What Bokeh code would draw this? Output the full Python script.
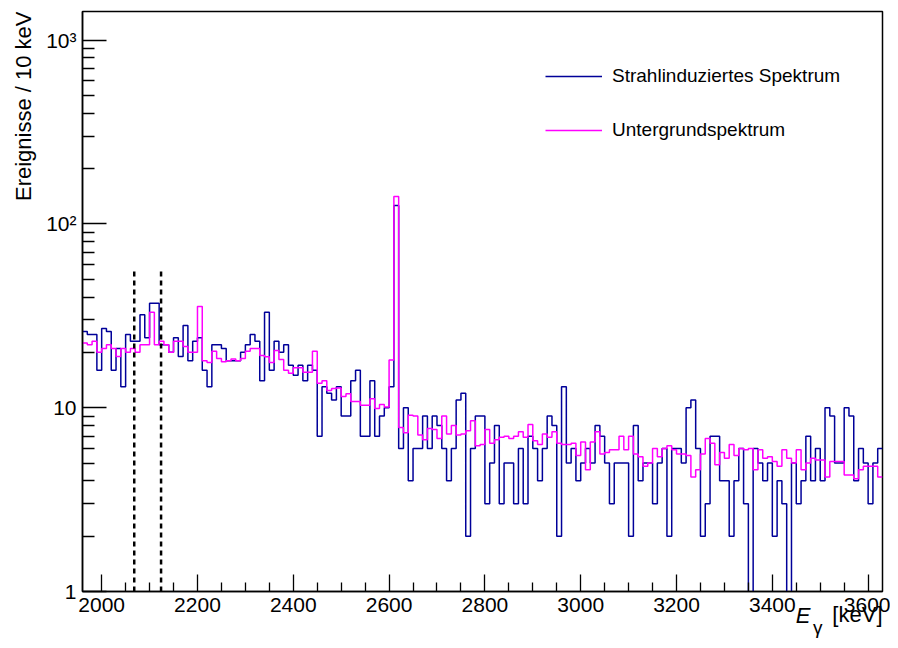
import numpy as np
from bokeh.plotting import figure
from bokeh.models import ColumnDataSource, FixedTicker, Legend, LegendItem, Title
from bokeh.embed import file_html
from bokeh.resources import INLINE

# ---- data -------------------------------------------------------------
E_START = 1960          # keV, lower edge of first bin
BIN_WIDTH = 10          # keV per bin

# Strahlinduziertes Spektrum (counts per 10 keV bin)
strahl = [
    26, 25, 25, 16, 27, 26, 16, 21, 13, 25,
    23, 23, 32, 24, 37, 37, 22, 22, 20, 24,
    19, 28, 18, 23, 24, 16, 13, 22, 22, 21,
    18, 18, 18, 20, 22, 25, 23, 14, 33, 16,
    23, 20, 22, 17, 15, 17, 14, 17, 16, 7,
    13, 12, 11, 13, 9, 9, 14, 16, 7, 7,
    14, 7, 9, 10, 13, 126, 6, 10, 4, 6,
    6, 9, 6, 9, 8, 6, 4, 6, 11, 12,
    2, 6, 9, 9, 3, 5, 8, 3, 5, 5,
    3, 6, 3, 7, 6, 4, 6, 9, 8, 2,
    13, 5, 6, 4, 5, 6, 5, 8, 7, 5,
    3, 5, 5, 5, 2, 8, 4, 5, 5, 3,
    5, 6, 2, 6, 6, 5, 10, 11, 6, 2,
    3, 7, 7, 4, 4, 2, 4, 6, 3, 0,
    6, 5, 4, 5, 2, 4, 3, 0, 5, 3,
    4, 7, 4, 6, 4, 10, 9, 5, 5, 10,
    9, 4, 6, 5, 3, 5, 6,
]

# Untergrundspektrum (scaled background, per 10 keV bin)
untergrund = [
    22.5, 22, 23, 20, 21, 22, 21, 19, 21, 20,
    21, 20, 22, 22, 33, 22, 23, 22, 20, 23,
    23, 21.5, 20, 20, 35.5, 18, 17.6, 20.3, 18.5, 17.8,
    18, 18.4, 18, 18.5, 20.3, 21, 21, 19.2, 18.9, 17.6,
    20.5, 18.3, 16, 15.4, 16.5, 16.5, 15.6, 15.6, 20.3, 13.6,
    14, 12.4, 12.7, 12.8, 11.5, 11.9, 10.8, 10.8, 10.3, 10.3,
    11.2, 9.9, 10.4, 10.1, 18.2, 141, 7.8, 7.3, 9.1, 9,
    7.1, 6.7, 7.7, 7.6, 6.8, 9, 7.2, 8, 7.1, 7.2,
    7.5, 8.5, 6.2, 6.3, 7.6, 6.4, 6.7, 6.9, 7, 6.8,
    7, 7.4, 6.9, 8.1, 6.6, 6.3, 7.2, 6.9, 7.4, 6.4,
    6.3, 6.3, 6.4, 5.5, 6.5, 4.6, 6.5, 7.4, 5.6, 5.7,
    5.9, 5.9, 7.0, 5.9, 7.0, 5.6, 5.4, 4.8, 5.0, 6.0,
    5.4, 6.0, 6.2, 5.9, 5.6, 5.6, 5.5, 4.2, 4.6, 5.6,
    6.8, 6.4, 4.9, 5.7, 5.3, 6.3, 5.5, 6.0, 5.9, 6.0,
    4.6, 5.9, 5.3, 5.4, 5.1, 4.8, 5.9, 5.3, 5.0, 5.9,
    4.6, 5.0, 5.3, 5.2, 5.2, 4.2, 5.1, 5.1, 5.1, 4.3,
    4.3, 4.1, 4.6, 4.8, 4.8, 4.8, 4.2,
]

x_major_ticks = [2000, 2200, 2400, 2600, 2800, 3000, 3200, 3400, 3600]
x_minor_ticks = [2050, 2100, 2150, 2250, 2300, 2350, 2450, 2500, 2550,
                 2650, 2700, 2750, 2850, 2900, 2950, 3050, 3100, 3150,
                 3250, 3300, 3350, 3450, 3500, 3550]
y_major_ticks = [1, 10, 100, 1000]
y_tick_labels = ["1", "10", "10\u00b2", "10\u00b3"]
y_minor_ticks = [2, 3, 4, 5, 6, 7, 8, 9, 20, 30, 40, 50, 60, 70, 80, 90,
                 200, 300, 400, 500, 600, 700, 800, 900]

roi_energies = [2068, 2124]   # dashed markers (keV)
roi_height = 57

Y_MIN, Y_MAX = 1, 1430
legend_labels = ["Strahlinduziertes Spektrum", "Untergrundspektrum"]
x_title_symbol = "E"
x_title_sub = "\u03b3"
x_title_unit = "[keV]"
y_title = "Ereignisse / 10 keV"

FONT = "Liberation Sans"
BLUE = "#000099"
MAGENTA = "#ff00ff"

# ---- figure -----------------------------------------------------------
n = len(strahl)
edges = E_START + BIN_WIDTH * np.arange(n + 1)
X_END = E_START + BIN_WIDTH * n

def step_y(vals):
    v = np.asarray(vals, dtype=float)
    v = np.where(v > 0, v, 0.05)   # empty bins fall below the axis (log)
    return np.append(v, v[-1])

p = figure(width=890, height=648, x_range=(E_START, X_END), y_range=(Y_MIN, Y_MAX),
           y_axis_type="log", output_backend="svg", toolbar_location=None,
           min_border_left=82, min_border_right=8, min_border_top=11,
           min_border_bottom=57, title=None)

p.background_fill_color = "white"
p.border_fill_color = "white"
p.outline_line_color = "black"
p.outline_line_width = 1.5
p.xgrid.visible = False
p.ygrid.visible = False

xa = p.xaxis[0]
ya = p.yaxis[0]
xa.ticker = FixedTicker(ticks=x_major_ticks, minor_ticks=x_minor_ticks)
ya.ticker = FixedTicker(ticks=y_major_ticks, minor_ticks=y_minor_ticks)
ya.major_label_overrides = {t: s for t, s in zip(y_major_ticks, y_tick_labels)}

for ax in (xa, ya):
    ax.axis_line_width = 1.5
    ax.axis_line_color = "black"
    ax.major_tick_line_color = "black"
    ax.minor_tick_line_color = "black"
    ax.major_tick_line_width = 1.3
    ax.minor_tick_line_width = 1.3
    ax.major_tick_out = 0
    ax.minor_tick_out = 0
    ax.major_label_text_font = FONT
    ax.major_label_text_font_size = "21px"
    ax.major_label_text_color = "black"
    ax.major_label_standoff = 6

xa.major_tick_in = 17
xa.minor_tick_in = 9
ya.major_tick_in = 24
ya.minor_tick_in = 12

# axis titles as side-panel titles (ROOT style: flush with the axis end)
p.add_layout(Title(text=y_title, align="right", vertical_align="bottom",
                   standoff=15, offset=0, text_font=FONT, text_font_size="22px",
                   text_font_style="normal", text_color="black"), "left")
p.add_layout(Title(text=x_title_unit, align="right", vertical_align="top",
                   standoff=-26, offset=0, text_font=FONT, text_font_size="22px",
                   text_font_style="normal", text_color="black"), "below")
p.add_layout(Title(text=x_title_symbol, align="right", vertical_align="top",
                   standoff=-26, offset=72, text_font=FONT, text_font_size="22px",
                   text_font_style="italic", text_color="black"), "below")
p.add_layout(Title(text=x_title_sub, align="right", vertical_align="top",
                   standoff=1, offset=60, text_font=FONT, text_font_size="19px",
                   text_font_style="normal", text_color="black"), "below")

src_b = ColumnDataSource(dict(x=edges, y=step_y(strahl)))
src_m = ColumnDataSource(dict(x=edges, y=step_y(untergrund)))
r_b = p.step("x", "y", source=src_b, mode="after", line_color=BLUE, line_width=1.5)
r_m = p.step("x", "y", source=src_m, mode="after", line_color=MAGENTA, line_width=1.5)

p.segment(x0=roi_energies, y0=[Y_MIN] * len(roi_energies),
          x1=roi_energies, y1=[roi_height] * len(roi_energies),
          line_color="black", line_width=2.5, line_dash="5 4")

legend = Legend(items=[LegendItem(label=legend_labels[0], renderers=[r_b]),
                       LegendItem(label=legend_labels[1], renderers=[r_m])],
                location=(463, 449), orientation="vertical",
                glyph_width=57, glyph_height=24, label_height=24,
                label_standoff=10, spacing=30, padding=0, margin=0,
                label_text_font=FONT, label_text_font_size="19px",
                label_text_color="black",
                border_line_alpha=0, background_fill_alpha=0)
p.add_layout(legend)

open("out.html", "w").write(file_html(p, INLINE))
